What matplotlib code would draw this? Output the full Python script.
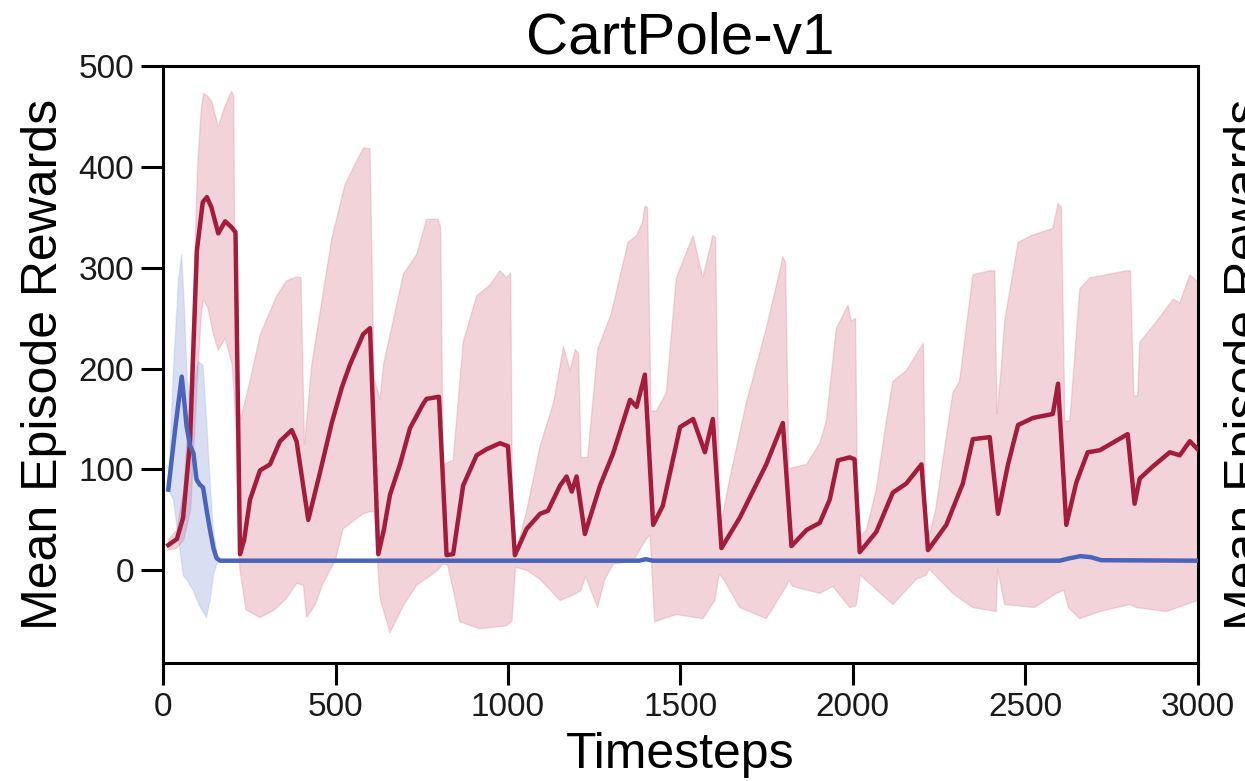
import numpy as np
import matplotlib
matplotlib.use("Agg")
import matplotlib.pyplot as plt

# ---------------- data ----------------
red_x = [15, 40, 58, 78, 98, 115, 127, 140, 160, 180, 199, 210, 223, 235, 252, 281, 310, 339, 373, 387,
         421, 455, 489, 518, 542, 580, 600, 624, 640, 658, 687, 716, 754, 764, 800, 822, 841, 870, 909,
         938, 977, 1000, 1020, 1054, 1093, 1116, 1151, 1170, 1185, 1199, 1223, 1267, 1305, 1354, 1373,
         1397, 1421, 1449, 1499, 1537, 1571, 1594, 1619, 1672, 1749, 1797, 1822, 1866, 1904, 1933, 1957,
         1991, 2005, 2020, 2068, 2116, 2155, 2199, 2218, 2271, 2319, 2348, 2397, 2421, 2450, 2479, 2522,
         2580, 2595, 2619, 2648, 2681, 2716, 2797, 2817, 2832, 2870, 2919, 2948, 2977, 3000]
red_mean = [25, 31, 52, 127, 317, 365, 370, 360, 334, 346, 340, 335, 16, 30, 70, 99, 105, 128, 139, 128,
            50, 97, 146, 181, 204, 234, 240, 16, 40, 75, 105, 141, 165, 170, 172, 15, 16, 84, 114,
            120, 126, 123, 15, 41, 56, 59, 84, 93, 78, 93, 36, 84, 116, 169, 162,
            194, 45, 64, 142, 150, 117, 150, 22, 52, 105, 146, 24, 40, 47, 70, 109,
            112, 110, 18, 38, 77, 86, 105, 20, 45, 86, 130, 132, 56, 105, 144, 151,
            155, 185, 45, 87, 117, 119, 135, 66, 91, 103, 117, 114, 128, 120]

red_up_x = [15, 40, 60, 75, 88, 100, 110, 117, 130, 141, 160, 180, 199, 205, 210, 225, 252, 281, 329,
            358, 387, 400, 410, 431, 489, 527, 560, 581, 600, 612, 629, 639, 697, 735, 764, 797, 805,
            812, 841, 870, 909, 948, 977, 996, 1008, 1014, 1025, 1054, 1093, 1132, 1161, 1180, 1195,
            1205, 1212, 1231, 1260, 1299, 1348, 1373, 1390, 1397, 1405, 1415, 1430, 1459, 1488, 1537,
            1565, 1594, 1602, 1614, 1643, 1691, 1749, 1788, 1797, 1805, 1815, 1866, 1904, 1923, 1952,
            1986, 1996, 2008, 2015, 2039, 2068, 2097, 2116, 2155, 2193, 2205, 2212, 2240, 2270, 2290,
            2309, 2348, 2397, 2412, 2418, 2430, 2440, 2479, 2518, 2580, 2595, 2605, 2615, 2629, 2658,
            2687, 2794, 2805, 2815, 2826, 2832, 2890, 2929, 2948, 2977, 3000]
red_upper = [30, 40, 80, 160, 272, 400, 455, 473, 470, 465, 440, 461, 475, 470, 190, 150, 188, 233, 272,
             287, 291, 290, 125, 204, 329, 382, 405, 419, 418, 190, 170, 204, 294, 313, 348, 348, 340,
             105, 109, 226, 272, 283, 297, 290, 295, 25, 20, 59, 123, 166, 222, 198, 219,
             215, 112, 112, 219, 254, 325, 332, 345, 361, 360, 158, 158, 176, 290, 332,
             290, 332, 330, 40, 91, 166, 240, 297, 311, 305, 101, 105, 126, 148, 240,
             263, 247, 250, 30, 40, 80, 148, 187, 198, 219, 225, 20, 60, 130, 176,
             187, 293, 297, 297, 155, 200, 247, 325, 332, 339, 364, 360, 148, 148, 279,
             290, 297, 297, 173, 173, 226, 251, 269, 265, 293, 286]

red_lo_x = [15, 40, 60, 80, 98, 110, 117, 130, 145, 160, 180, 200, 210, 222, 240, 281, 320, 358, 387, 407,
            416, 440, 464, 500, 522, 580, 600, 612, 629, 658, 697, 735, 793, 812, 825, 841, 860, 918, 996,
            1012, 1022, 1054, 1093, 1151, 1199, 1212, 1225, 1260, 1280, 1305, 1363, 1401, 1412, 1425,
            1488, 1565, 1600, 1612, 1625, 1672, 1749, 1807, 1815, 1825, 1904, 1942, 1991, 2010, 2022,
            2116, 2184, 2212, 2222, 2290, 2348, 2416, 2420, 2440, 2527, 2590, 2612, 2625, 2658, 2716,
            2803, 2822, 2909, 3000]
red_lower = [20, 22, 30, 60, 180, 250, 268, 260, 235, 218, 230, 204, 150, 2, -39, -47, -40, -28, -13, -15,
             -47, -35, -13, 10, 41, 56, 58, 58, -28, -62, -35, -15, -1, 6, 5, -19, -51, -58, -55,
             -50, 3, 0, -9, -30, -23, -20, -6, -37, -10, 6, 9, 31, 35, -51,
             -44, -48, -30, -4, -9, -37, -48, -16, -10, -16, -23, -16, -37, -35, -5,
             -34, -9, -5, 1, -23, -37, -41, 1, -34, -37, -23, -20, -37, -48, -41,
             -34, -37, -41, -30]

blue_x = [15, 35, 54, 62, 68, 78, 88, 97, 106, 116, 126, 136, 146, 155, 165, 1380, 1400, 1420,
          2600, 2630, 2660, 2690, 2720, 3000]
blue_mean = [80, 140, 192, 165, 143, 124, 116, 90, 85, 82, 60, 40, 22, 12, 9.5, 9.5, 11, 9.5,
             9.5, 12, 14, 13, 10, 9.5]

blue_up_x = [15, 30, 45, 54, 62, 70, 80, 90, 102, 116, 126, 136, 146, 158, 168]
blue_upper = [80, 200, 290, 313, 260, 190, 160, 185, 207, 203, 150, 90, 40, 15, 10]
blue_lo_x = [15, 30, 45, 58, 70, 87, 105, 126, 136, 146, 158, 168]
blue_lower = [80, 70, 30, -5, -10, -20, -35, -47, -30, -5, 8, 9.5]

x_ticks = [0, 500, 1000, 1500, 2000, 2500, 3000]
y_ticks = [0, 100, 200, 300, 400, 500]

# ---------------- styling ----------------
plt.rcParams['font.family'] = ['Liberation Sans', 'DejaVu Sans']
RED = '#a31c3c'
BLUE = '#4a63bb'

fig = plt.figure(figsize=(12.45, 7.81), dpi=100)
ax = fig.add_axes([0.131, 0.151, 0.831, 0.7645])


def band(ax, ux, uy, lx, ly, color, alpha, ealpha):
    px = np.concatenate([np.asarray(ux, float), np.asarray(lx, float)[::-1]])
    py = np.concatenate([np.asarray(uy, float), np.asarray(ly, float)[::-1]])
    ax.fill(px, py, facecolor=color, alpha=alpha, edgecolor='none', zorder=1)
    ax.plot(ux, uy, color=color, alpha=ealpha, lw=1.0, zorder=1)
    ax.plot(lx, ly, color=color, alpha=ealpha, lw=1.0, zorder=1)


band(ax, red_up_x, red_upper, red_lo_x, red_lower, '#c8506a', 0.25, 0.18)
band(ax, blue_up_x, blue_upper, blue_lo_x, blue_lower, '#6a7fd0', 0.25, 0.15)

ax.plot(red_x, red_mean, color=RED, lw=3.2, zorder=3, solid_joinstyle='round')
ax.plot(blue_x, blue_mean, color=BLUE, lw=3.2, zorder=4, solid_joinstyle='round')

ax.set_xlim(0, 3000)
ax.set_ylim(-92, 500)
ax.set_xticks(x_ticks)
ax.set_yticks(y_ticks)
ax.set_xticklabels([str(v) for v in x_ticks])
ax.set_yticklabels([str(v) for v in y_ticks])

for s in ax.spines.values():
    s.set_linewidth(2.2)
    s.set_color('black')
ax.tick_params(axis='both', which='major', direction='out', length=16, width=2.2,
               labelsize=24, pad=5, colors='black', labelcolor='#1a1a1a')

ax.set_title('CartPole-v1', fontsize=42, pad=8)
ax.set_xlabel('Timesteps', fontsize=36, labelpad=6)
ax.set_ylabel('Mean Episode Rewards', fontsize=36, labelpad=8)

# clipped label from the neighbouring panel at the right edge
fig.text(1224 / 1245, 1 - 364.5 / 781, 'Mean Episode Rewards', rotation=90,
         fontsize=36, ha='left', va='center')

fig.savefig('out.png', dpi=100)
